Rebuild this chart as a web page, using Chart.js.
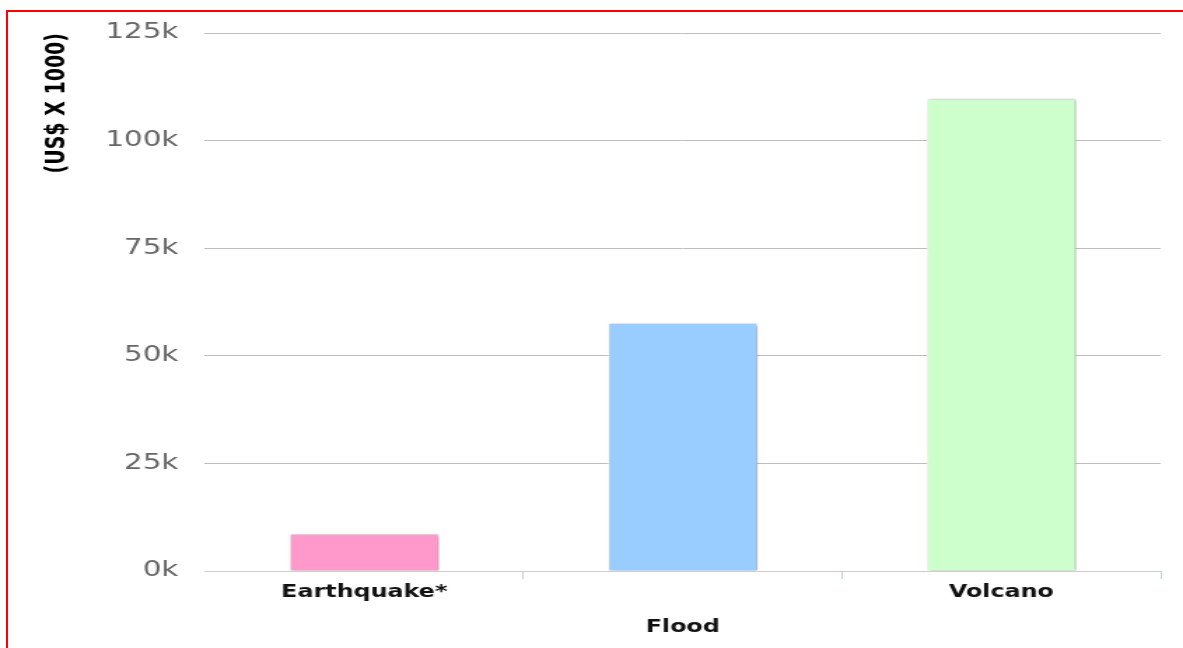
<!DOCTYPE html>
<html>
<head>
<meta charset="utf-8">
<title>Losses by disaster type</title>
<script src="https://cdn.jsdelivr.net/npm/chart.js@4.4.1/dist/chart.umd.min.js"></script>
<style>
  html, body { margin:0; padding:0; background:#fff; overflow:hidden; }
  /* chart is drawn narrow and stretched sideways */
  #wrap { position:absolute; left:0; top:0; width:845px; height:648px; transform:scaleX(1.4); transform-origin:0 0; }
  #frame { position:absolute; left:6px; top:10px; width:1200px; height:700px; border:2px solid #f00; box-sizing:border-box; pointer-events:none; }
</style>
</head>
<body>
<div id="wrap"><canvas id="chart"></canvas></div>
<div id="frame"></div>
<script>
const categories = ["Earthquake*", "Flood", "Volcano"];
const losses = [8700, 57700, 109800];
const barColors = ["#FF99CC", "#99CCFF", "#CCFFCC"];
const yTicks = [0, 25000, 50000, 75000, 100000, 125000];

// soft drop shadow behind the columns
const barShadow = {
  id: "barShadow",
  beforeDatasetsDraw(chart){
    const ctx = chart.ctx;
    ctx.save();
    ctx.shadowColor = "rgba(0,0,0,0.4)";
    ctx.shadowOffsetX = 1.5;
    ctx.shadowOffsetY = 1;
    ctx.shadowBlur = 3;
  },
  afterDatasetsDraw(chart){
    chart.ctx.restore();
  }
};

new Chart(document.getElementById("chart"), {
  type: "bar",
  data: {
    labels: categories,
    datasets: [{
      data: losses,
      backgroundColor: barColors,
      borderColor: "#fff",
      borderWidth: 1,
      barPercentage: 0.47,
      categoryPercentage: 1
    }]
  },
  options: {
    responsive: true,
    maintainAspectRatio: false,
    animation: false,
    layout: { padding: { left: 19, right: 16, top: 33, bottom: 7 } },
    plugins: { legend: { display: false }, tooltip: { enabled: false } },
    scales: {
      x: {
        border: { color: "#C0D0E0", width: 1 },
        grid: {
          drawOnChartArea: false,
          tickLength: 8,
          color: c => c.index === 0 ? "rgba(0,0,0,0)" : "#C0D0E0"
        },
        ticks: {
          // staggered labels: every second one drops a line
          callback: (v, i) => i % 2 ? ["", categories[i]] : categories[i],
          maxRotation: 0,
          autoSkip: false,
          padding: -4,
          color: "#111",
          font: { family: "DejaVu Sans", size: 17, weight: "bold", lineHeight: "35px" }
        }
      },
      y: {
        min: yTicks[0],
        max: yTicks[yTicks.length - 1],
        afterFit: s => { s.width = 127.4; },
        afterBuildTicks: s => { s.ticks = yTicks.map(v => ({ value: v })); },
        border: { display: false },
        grid: {
          drawTicks: false,
          color: c => c.tick && c.tick.value === 0 ? "rgba(0,0,0,0)" : "#BDBDBD"
        },
        ticks: {
          padding: 19,
          color: "#666",
          font: { family: "DejaVu Sans", size: 21 },
          callback: v => (v / 1000) + "k"
        },
        title: {
          display: true,
          text: "(US$ X 1000)",
          align: "end",
          color: "#000",
          padding: { top: 11, bottom: 0 },
          font: { family: "DejaVu Sans", size: 19, weight: "bold" }
        }
      }
    }
  },
  plugins: [barShadow]
});
</script>
</body>
</html>
